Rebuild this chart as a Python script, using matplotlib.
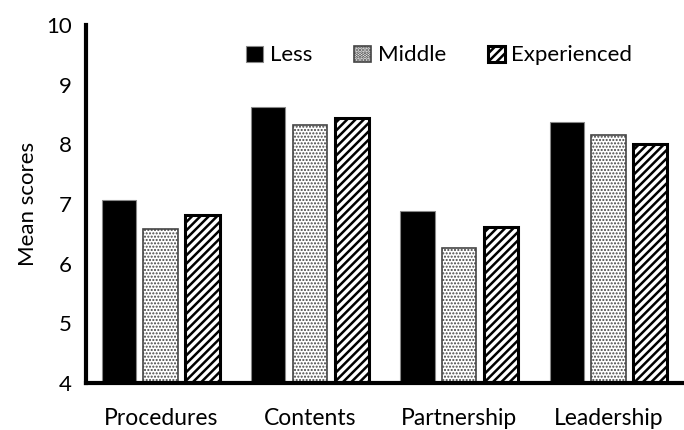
import matplotlib
matplotlib.use("Agg")
import matplotlib.pyplot as plt
import numpy as np

categories = ["Procedures", "Contents", "Partnership", "Leadership"]
series_names = ["Less", "Middle", "Experienced"]
less = [7.07, 8.63, 6.88, 8.38]
middle = [6.58, 8.32, 6.27, 8.16]
experienced = [6.82, 8.44, 6.62, 8.00]
yticks = [4, 5, 6, 7, 8, 9, 10]

plt.rcParams['font.family'] = ['Lato', 'DejaVu Sans']
plt.rcParams['hatch.color'] = 'black'

fig = plt.figure(figsize=(6.84, 4.30), dpi=100)
ax = fig.add_axes([0.1257, 0.1093, 0.873, 0.8326])

x = np.arange(len(categories))
w = 0.23
off = 0.28
ax.bar(x - off, less, w, color='black', edgecolor='#888888', linewidth=0.8, label=series_names[0])
plt.rcParams['hatch.linewidth'] = 1.0
ax.bar(x, middle, w, color='white', edgecolor='#444444', hatch='.....', linewidth=1.2, label=series_names[1])
plt.rcParams['hatch.linewidth'] = 1.8
ax.bar(x + off, experienced, w, color='white', edgecolor='black', hatch='////', linewidth=2.2, label=series_names[2])

ax.set_xlim(-0.5, 3.5)
ax.set_ylim(4, 10)
ax.set_yticks(yticks)
ax.set_xticks(x)
ax.set_xticklabels(categories)
ax.tick_params(axis='both', length=0, labelsize=16)
ax.tick_params(axis='x', labelsize=16.5, pad=18)
ax.tick_params(axis='y', pad=10)
for s in ['top', 'right']:
    ax.spines[s].set_visible(False)
for s in ['left', 'bottom']:
    ax.spines[s].set_linewidth(3)
ax.set_ylabel("Mean scores", fontsize=16, labelpad=6)

ax.legend(ncol=3, frameon=False, loc='center left', bbox_to_anchor=(0.235, 0.915),
          fontsize=16, handlelength=0.75, handleheight=0.75, handletextpad=0.3, columnspacing=1.9)

fig.savefig("out.png", dpi=100)
